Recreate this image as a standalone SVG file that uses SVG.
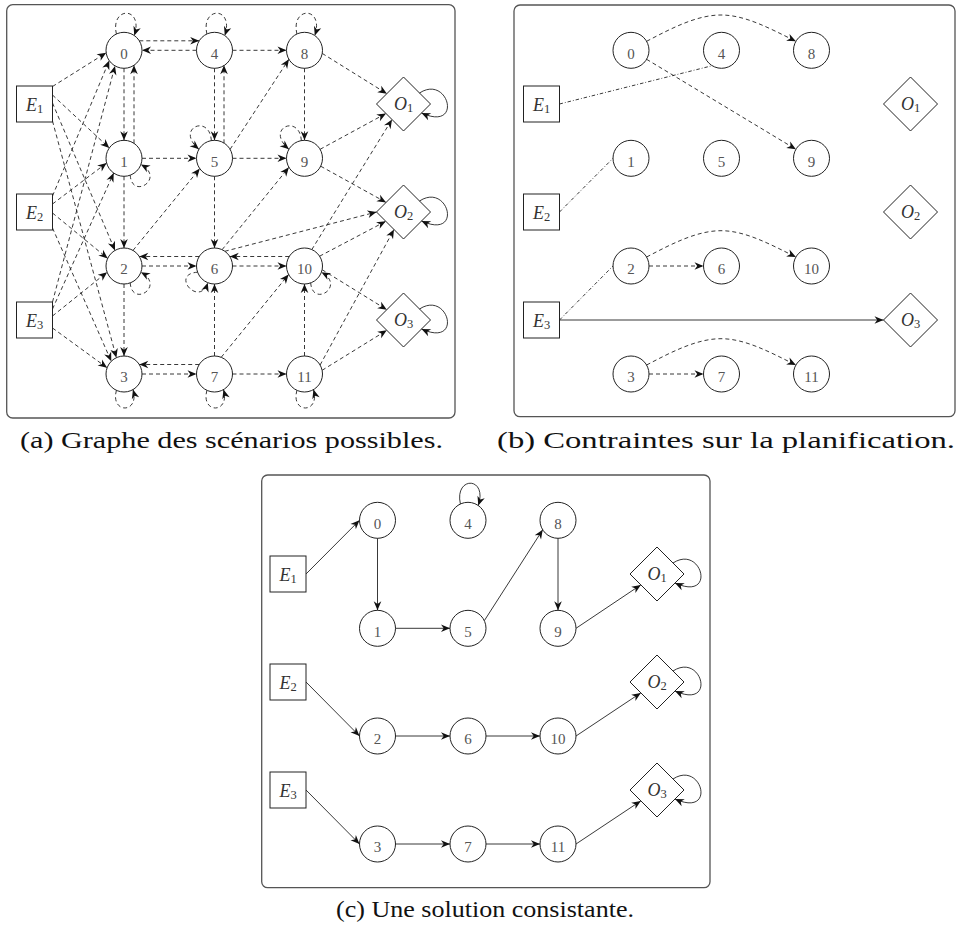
<svg xmlns="http://www.w3.org/2000/svg" width="958" height="929" viewBox="0 0 958 929">
<defs>
<style>
.fr{fill:none;stroke:#555;stroke-width:1.3}
.nd{fill:#fff;stroke:#222;stroke-width:1}
.d{fill:none;stroke:#222;stroke-width:0.9;stroke-dasharray:4 3;marker-end:url(#ah)}
.s{fill:none;stroke:#222;stroke-width:0.9;marker-end:url(#ah)}
.dd{fill:none;stroke:#222;stroke-width:0.9;stroke-dasharray:3.5 2 0.8 2}
.num{font-family:"Liberation Serif",serif;font-size:15px;fill:#555;text-anchor:middle}
.lab{font-family:"Liberation Serif",serif;font-style:italic;font-size:18px;fill:#333;text-anchor:middle}
.sub{font-style:normal;font-size:12.5px}
.cap{font-family:"Liberation Serif",serif;font-size:24px;fill:#111;text-anchor:middle}
</style>
<marker id="ah" markerUnits="userSpaceOnUse" viewBox="-11 -6 12 12" markerWidth="12" markerHeight="12" refX="0" refY="0" orient="auto">
<path d="M0,0 L-9,-3.8 L-6.3,0 L-9,3.8 Z" fill="#111"/>
</marker>
</defs>

<!-- frames -->
<rect class="fr" x="6.7" y="4.7" width="448.3" height="413.3" rx="6"/>
<rect class="fr" x="514" y="5" width="441" height="411.7" rx="6"/>
<rect class="fr" x="261.7" y="475" width="448.3" height="412.7" rx="6"/>

<!-- captions -->
<text class="cap" x="231.5" y="448" textLength="423" lengthAdjust="spacingAndGlyphs">(a) Graphe des scénarios possibles.</text>
<text class="cap" x="726" y="448" textLength="458" lengthAdjust="spacingAndGlyphs">(b) Contraintes sur la planification.</text>
<text class="cap" x="485" y="917" textLength="298" lengthAdjust="spacingAndGlyphs">(c) Une solution consistante.</text>

<!-- ================= PANEL A ================= -->
<g id="panel-a">
<g id="a-nodes">
<g id="a-E1"><rect class="nd" x="16.5" y="86" width="36" height="36"/><text class="lab" x="34.5" y="111.3">E<tspan class="sub" dy="2">1</tspan></text></g>
<g id="a-E2"><rect class="nd" x="16.5" y="194" width="36" height="36"/><text class="lab" x="34.5" y="219.3">E<tspan class="sub" dy="2">2</tspan></text></g>
<g id="a-E3"><rect class="nd" x="16.5" y="302" width="36" height="36"/><text class="lab" x="34.5" y="327.3">E<tspan class="sub" dy="2">3</tspan></text></g>
<g id="a-n0"><circle class="nd" cx="124" cy="50.3" r="18"/><text class="num" x="124" y="58.5">0</text></g>
<g id="a-n1"><circle class="nd" cx="124" cy="158.3" r="18"/><text class="num" x="124" y="166.5">1</text></g>
<g id="a-n2"><circle class="nd" cx="124" cy="266" r="18"/><text class="num" x="124" y="274.2">2</text></g>
<g id="a-n3"><circle class="nd" cx="124" cy="374" r="18"/><text class="num" x="124" y="382.2">3</text></g>
<g id="a-n4"><circle class="nd" cx="214.5" cy="50.3" r="18"/><text class="num" x="214.5" y="58.5">4</text></g>
<g id="a-n5"><circle class="nd" cx="214.5" cy="158.3" r="18"/><text class="num" x="214.5" y="166.5">5</text></g>
<g id="a-n6"><circle class="nd" cx="214.5" cy="266" r="18"/><text class="num" x="214.5" y="274.2">6</text></g>
<g id="a-n7"><circle class="nd" cx="214.5" cy="374" r="18"/><text class="num" x="214.5" y="382.2">7</text></g>
<g id="a-n8"><circle class="nd" cx="304.5" cy="50.3" r="18"/><text class="num" x="304.5" y="58.5">8</text></g>
<g id="a-n9"><circle class="nd" cx="304.5" cy="158.3" r="18"/><text class="num" x="304.5" y="166.5">9</text></g>
<g id="a-n10"><circle class="nd" cx="304.5" cy="266" r="18"/><text class="num" x="304.5" y="274.2">10</text></g>
<g id="a-n11"><circle class="nd" cx="304.5" cy="374" r="18"/><text class="num" x="304.5" y="382.2">11</text></g>
<g id="a-O1"><polygon class="nd" points="376.5,104 403.5,77 430.5,104 403.5,131"/><text class="lab" x="403.5" y="110.3">O<tspan class="sub" dy="2">1</tspan></text></g>
<g id="a-O2"><polygon class="nd" points="376.5,212 403.5,185 430.5,212 403.5,239"/><text class="lab" x="403.5" y="218.3">O<tspan class="sub" dy="2">2</tspan></text></g>
<g id="a-O3"><polygon class="nd" points="376.5,320 403.5,293 430.5,320 403.5,347"/><text class="lab" x="403.5" y="326.3">O<tspan class="sub" dy="2">3</tspan></text></g>
</g>
<g id="a-connectors">
<path class="d" d="M139.3,40.8 H199.2"/>
<path class="d" d="M196.5,50.3 H142"/>
<path class="d" d="M232.5,50.3 H286.5"/>
<path class="d" d="M142,158.3 H196.5"/>
<path class="d" d="M232.5,158.3 H286.5"/>
<path class="d" d="M199.2,256.5 H139.3"/>
<path class="d" d="M142,266 H196.5"/>
<path class="d" d="M289.2,256.5 H229.8"/>
<path class="d" d="M232.5,266 H286.5"/>
<path class="d" d="M199.2,364.5 H139.3"/>
<path class="d" d="M142,374 H196.5"/>
<path class="d" d="M232.5,374 H286.5"/>
<path class="d" d="M124,68.3 V140.3"/>
<path class="d" d="M134,143.3 V65.3"/>
<path class="d" d="M214.5,68.3 V140.3"/>
<path class="d" d="M224,143.3 V65.3"/>
<path class="d" d="M304.5,68.3 V140.3"/>
<path class="d" d="M124,176.3 V248"/>
<path class="d" d="M214.5,176.3 V248"/>
<path class="d" d="M124,284 V356"/>
<path class="d" d="M214.5,356 V284"/>
<path class="d" d="M304.5,356 V284"/>
<path class="d" d="M133,250.4 L199.8,168.6"/>
<path class="d" d="M230.1,149.3 L288.9,59.3"/>
<path class="d" d="M222.1,249.7 L288.9,167.3"/>
<path class="d" d="M221.2,357.3 L288.6,274.5"/>
<path class="d" d="M224.8,251.3 L376.5,212"/>
<path class="d" d="M311.8,249.6 L392,119.5"/>
<path class="d" d="M319.6,256.2 L385.8,221.3"/>
<path class="d" d="M322.1,269.7 L386.8,309.7"/>
<path class="d" d="M320.1,365 L394,229.5"/>
<path class="d" d="M322.1,370.3 L386.8,330.3"/>
<path class="d" d="M320.1,149.3 L386,113.5"/>
<path class="d" d="M320.7,166.2 L386.1,202.4"/>
<path class="d" d="M322.2,53.4 L386.9,93.7"/>
<path class="d" d="M52.5,86.5 L106.2,52.8"/>
<path class="d" d="M52.5,196 L109.3,60.6"/>
<path class="d" d="M52.5,302 L115,65.9"/>
<path class="d" d="M52.5,95 L109.3,148"/>
<path class="d" d="M52.5,204 L106.6,163"/>
<path class="d" d="M52.5,309 L113.7,173"/>
<path class="d" d="M52.5,103 L115,250.4"/>
<path class="d" d="M52.5,213 L107.7,258.4"/>
<path class="d" d="M52.5,316 L107.1,272.2"/>
<path class="d" d="M52.5,121 L116.4,357.7"/>
<path class="d" d="M52.5,228 L111.3,361.3"/>
<path class="d" d="M52.5,328 L107.1,367.8"/>
<path class="d" d="M116.4,34 C110,6 144,6 134.3,35.6"/>
<path class="d" d="M206.9,34 C200.5,6 234.5,6 224.8,35.6"/>
<path class="d" d="M296.9,34 C290.5,6 324.5,6 314.8,35.6"/>
<path class="d" d="M211.4,140.6 C209.5,113.3 174.5,128.3 198.9,149.3"/>
<path class="d" d="M301.4,140.6 C299.5,113.3 264.5,128.3 288.9,149.3"/>
<path class="d" d="M130.2,175.2 C132,200.3 166,178.3 140.9,164.5"/>
<path class="d" d="M130.2,282.9 C132,308 166,286 140.9,272.2"/>
<path class="d" d="M310.7,282.9 C312.5,308 346.5,286 321.4,272.2"/>
<path class="d" d="M197.6,272.2 C169.5,274 199.5,308 207.8,282.7"/>
<path class="d" d="M116.4,390.3 C110,414 140,414 133,389.6"/>
<path class="d" d="M206.9,390.3 C200.5,414 230.5,414 223.5,389.6"/>
<path class="d" d="M296.9,390.3 C290.5,414 320.5,414 313.5,389.6"/>
<path class="s" d="M419.5,93 C448.5,74 463.5,132 421.5,113"/>
<path class="s" d="M419.5,201 C448.5,182 463.5,240 421.5,221"/>
<path class="s" d="M419.5,309 C448.5,290 463.5,348 421.5,329"/>
</g>
</g>

<!-- ================= PANEL B ================= -->
<g id="panel-b" transform="translate(507,0)">
<g id="b-nodes">
<g id="b-E1"><rect class="nd" x="16.5" y="86" width="36" height="36"/><text class="lab" x="34.5" y="111.3">E<tspan class="sub" dy="2">1</tspan></text></g>
<g id="b-E2"><rect class="nd" x="16.5" y="194" width="36" height="36"/><text class="lab" x="34.5" y="219.3">E<tspan class="sub" dy="2">2</tspan></text></g>
<g id="b-E3"><rect class="nd" x="16.5" y="302" width="36" height="36"/><text class="lab" x="34.5" y="327.3">E<tspan class="sub" dy="2">3</tspan></text></g>
<g id="b-n0"><circle class="nd" cx="124" cy="50.3" r="18"/><text class="num" x="124" y="58.5">0</text></g>
<g id="b-n1"><circle class="nd" cx="124" cy="158.3" r="18"/><text class="num" x="124" y="166.5">1</text></g>
<g id="b-n2"><circle class="nd" cx="124" cy="266" r="18"/><text class="num" x="124" y="274.2">2</text></g>
<g id="b-n3"><circle class="nd" cx="124" cy="374" r="18"/><text class="num" x="124" y="382.2">3</text></g>
<g id="b-n4"><circle class="nd" cx="214.5" cy="50.3" r="18"/><text class="num" x="214.5" y="58.5">4</text></g>
<g id="b-n5"><circle class="nd" cx="214.5" cy="158.3" r="18"/><text class="num" x="214.5" y="166.5">5</text></g>
<g id="b-n6"><circle class="nd" cx="214.5" cy="266" r="18"/><text class="num" x="214.5" y="274.2">6</text></g>
<g id="b-n7"><circle class="nd" cx="214.5" cy="374" r="18"/><text class="num" x="214.5" y="382.2">7</text></g>
<g id="b-n8"><circle class="nd" cx="304.5" cy="50.3" r="18"/><text class="num" x="304.5" y="58.5">8</text></g>
<g id="b-n9"><circle class="nd" cx="304.5" cy="158.3" r="18"/><text class="num" x="304.5" y="166.5">9</text></g>
<g id="b-n10"><circle class="nd" cx="304.5" cy="266" r="18"/><text class="num" x="304.5" y="274.2">10</text></g>
<g id="b-n11"><circle class="nd" cx="304.5" cy="374" r="18"/><text class="num" x="304.5" y="382.2">11</text></g>
<g id="b-O1"><polygon class="nd" points="376.5,104 403.5,77 430.5,104 403.5,131"/><text class="lab" x="403.5" y="110.3">O<tspan class="sub" dy="2">1</tspan></text></g>
<g id="b-O2"><polygon class="nd" points="376.5,212 403.5,185 430.5,212 403.5,239"/><text class="lab" x="403.5" y="218.3">O<tspan class="sub" dy="2">2</tspan></text></g>
<g id="b-O3"><polygon class="nd" points="376.5,320 403.5,293 430.5,320 403.5,347"/><text class="lab" x="403.5" y="326.3">O<tspan class="sub" dy="2">3</tspan></text></g>
</g>
<g id="b-connectors">
<path class="d" d="M139.6,41.3 C165,28 190,15 214,15 C238,15 262,28 288.9,41.3"/>
<path class="d" d="M139.6,59.3 L288.9,149.3"/>
<path class="dd" d="M52.5,104 L204,66"/>
<path class="dd" d="M52.5,212 L106,158.3"/>
<path class="dd" d="M52.5,320 L106,266"/>
<path class="s" d="M52.5,320 H376.5"/>
<path class="d" d="M142,266 H196.5"/>
<path class="d" d="M139.6,257 C165,243.7 190,230.7 214,230.7 C238,230.7 262,243.7 288.9,257"/>
<path class="d" d="M142,374 H196.5"/>
<path class="d" d="M139.6,365 C165,351.7 190,338.7 214,338.7 C238,338.7 262,351.7 288.9,365"/>
</g>
</g>

<!-- ================= PANEL C ================= -->
<g id="panel-c" transform="translate(253.5,470)">
<g id="c-nodes">
<g id="c-E1"><rect class="nd" x="16.5" y="86" width="36" height="36"/><text class="lab" x="34.5" y="111.3">E<tspan class="sub" dy="2">1</tspan></text></g>
<g id="c-E2"><rect class="nd" x="16.5" y="194" width="36" height="36"/><text class="lab" x="34.5" y="219.3">E<tspan class="sub" dy="2">2</tspan></text></g>
<g id="c-E3"><rect class="nd" x="16.5" y="302" width="36" height="36"/><text class="lab" x="34.5" y="327.3">E<tspan class="sub" dy="2">3</tspan></text></g>
<g id="c-n0"><circle class="nd" cx="124" cy="50.3" r="18"/><text class="num" x="124" y="58.5">0</text></g>
<g id="c-n1"><circle class="nd" cx="124" cy="158.3" r="18"/><text class="num" x="124" y="166.5">1</text></g>
<g id="c-n2"><circle class="nd" cx="124" cy="266" r="18"/><text class="num" x="124" y="274.2">2</text></g>
<g id="c-n3"><circle class="nd" cx="124" cy="374" r="18"/><text class="num" x="124" y="382.2">3</text></g>
<g id="c-n4"><circle class="nd" cx="214.5" cy="50.3" r="18"/><text class="num" x="214.5" y="58.5">4</text></g>
<g id="c-n5"><circle class="nd" cx="214.5" cy="158.3" r="18"/><text class="num" x="214.5" y="166.5">5</text></g>
<g id="c-n6"><circle class="nd" cx="214.5" cy="266" r="18"/><text class="num" x="214.5" y="274.2">6</text></g>
<g id="c-n7"><circle class="nd" cx="214.5" cy="374" r="18"/><text class="num" x="214.5" y="382.2">7</text></g>
<g id="c-n8"><circle class="nd" cx="304.5" cy="50.3" r="18"/><text class="num" x="304.5" y="58.5">8</text></g>
<g id="c-n9"><circle class="nd" cx="304.5" cy="158.3" r="18"/><text class="num" x="304.5" y="166.5">9</text></g>
<g id="c-n10"><circle class="nd" cx="304.5" cy="266" r="18"/><text class="num" x="304.5" y="274.2">10</text></g>
<g id="c-n11"><circle class="nd" cx="304.5" cy="374" r="18"/><text class="num" x="304.5" y="382.2">11</text></g>
<g id="c-O1"><polygon class="nd" points="376.5,104 403.5,77 430.5,104 403.5,131"/><text class="lab" x="403.5" y="110.3">O<tspan class="sub" dy="2">1</tspan></text></g>
<g id="c-O2"><polygon class="nd" points="376.5,212 403.5,185 430.5,212 403.5,239"/><text class="lab" x="403.5" y="218.3">O<tspan class="sub" dy="2">2</tspan></text></g>
<g id="c-O3"><polygon class="nd" points="376.5,320 403.5,293 430.5,320 403.5,347"/><text class="lab" x="403.5" y="326.3">O<tspan class="sub" dy="2">3</tspan></text></g>
</g>
<g id="c-connectors">
<path class="s" d="M52.5,104 L106,50.3"/>
<path class="s" d="M124,68.3 V140.3"/>
<path class="s" d="M142,158.3 H196.5"/>
<path class="s" d="M230.8,150.7 L289.2,59.8"/>
<path class="s" d="M304.5,68.3 V140.3"/>
<path class="s" d="M322.5,158.3 L387.3,114.9"/>
<path class="s" d="M52.5,212 L106,266"/>
<path class="s" d="M142,266 H196.5"/>
<path class="s" d="M232.5,266 H286.5"/>
<path class="s" d="M322.5,266 L387.3,222.9"/>
<path class="s" d="M52.5,320 L106,374"/>
<path class="s" d="M142,374 H196.5"/>
<path class="s" d="M232.5,374 H286.5"/>
<path class="s" d="M322.5,374 L387.3,330.9"/>
<path class="s" d="M206.9,34 C200.5,6 234.5,6 224.8,35.6"/>
<path class="s" d="M419.5,93 C448.5,74 463.5,132 421.5,113"/>
<path class="s" d="M419.5,201 C448.5,182 463.5,240 421.5,221"/>
<path class="s" d="M419.5,309 C448.5,290 463.5,348 421.5,329"/>
</g>
</g>
</svg>
